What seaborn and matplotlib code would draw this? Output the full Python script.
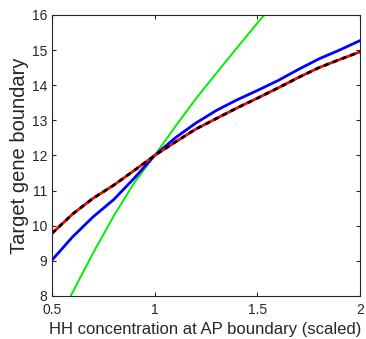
import pandas as pd
import seaborn as sns
import matplotlib
matplotlib.use("Agg")
import matplotlib.pyplot as plt

# Values
hh_conc = [0.5, 0.6, 0.7, 0.8, 0.9, 1.0, 1.1, 1.2, 1.3, 1.4, 1.5, 1.6, 1.7, 1.8, 1.9, 2.0]
boundary_red = [9.78, 10.33, 10.78, 11.15, 11.57, 12.0, 12.38, 12.75, 13.05, 13.35,
                13.63, 13.92, 14.22, 14.5, 14.73, 14.95]
boundary_blue = [9.02, 9.68, 10.25, 10.74, 11.35, 12.0, 12.5, 12.92, 13.28, 13.58,
                 13.85, 14.13, 14.45, 14.75, 15.0, 15.27]
green_conc = [0.55, 0.6, 0.7, 0.8, 0.9, 1.0, 1.1, 1.2, 1.3, 1.4, 1.5, 1.6]
boundary_green = [7.5, 8.1, 9.22, 10.27, 11.22, 12.0, 12.82, 13.61, 14.34, 15.06, 15.77, 16.45]

x_ticks = [0.5, 1, 1.5, 2]
x_tick_labels = ["0.5", "1", "1.5", "2"]
y_ticks = [8, 9, 10, 11, 12, 13, 14, 15, 16]

df = pd.DataFrame({"hh": hh_conc, "red": boundary_red, "blue": boundary_blue})
df_green = pd.DataFrame({"hh": green_conc, "green": boundary_green})

sns.set_style("ticks")
plt.rcParams["font.family"] = ["Liberation Sans", "DejaVu Sans"]

fig = plt.figure(figsize=(3.66, 3.39), dpi=100)
ax = fig.add_axes([0.142, 0.127, 0.842, 0.829])

sns.lineplot(data=df_green, x="hh", y="green", color="#00ee00", lw=1.4, ax=ax)
sns.lineplot(data=df, x="hh", y="blue", color="#0000ff", lw=2.0, ax=ax)
sns.lineplot(data=df, x="hh", y="red", color="#ff0000", lw=2.0, ax=ax)
sns.lineplot(data=df, x="hh", y="red", color="black", lw=2.0, ax=ax,
             dashes=False, linestyle=(0, (1.8, 1.6)))

ax.set_xlim(0.5, 2)
ax.set_ylim(8, 16)
ax.set_xticks(x_ticks)
ax.set_xticklabels(x_tick_labels)
ax.set_yticks(y_ticks)
ax.tick_params(direction="in", top=True, right=True, labelsize=10, length=3, width=0.8)
ax.tick_params(axis="x", pad=5)
for s in ax.spines.values():
    s.set_linewidth(0.8)
    s.set_visible(True)

ax.set_xlabel("HH concentration at AP boundary (scaled)", fontsize=12, labelpad=4)
ax.xaxis.set_label_coords(0.496, -0.093)
ax.set_ylabel("Target gene boundary", fontsize=14.5, labelpad=2)

fig.savefig("out.png", dpi=100)
